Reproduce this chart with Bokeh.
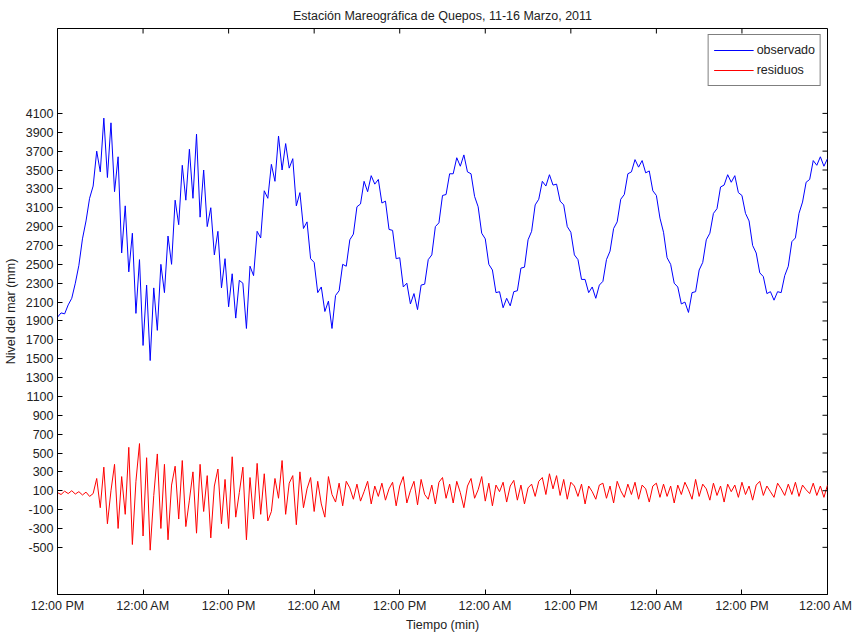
from bokeh.plotting import figure
from bokeh.models import Range1d, FixedTicker, Legend, LegendItem
from bokeh.embed import file_html
from bokeh.resources import INLINE

# ---- data (minutes from 11 March 12:00 PM, 30-min sampling) ----
step_min = 30
observado = [
    1940, 1985, 1975, 2070, 2140, 2300, 2490, 2770, 2960, 3200,
    3330, 3700, 3480, 4050, 3420, 4000, 3270, 3640, 2620, 3120,
    2420, 2830, 1980, 2550, 1640, 2280, 1480, 2250, 1800, 2500,
    2200, 2800, 2500, 3180, 2920, 3550, 3180, 3720, 3200, 3880,
    3000, 3500, 2900, 3100, 2600, 2850, 2250, 2560, 2050, 2400,
    1930, 2330, 2300, 1820, 2480, 2380, 2850, 2780, 3280, 3200,
    3560, 3380, 3860, 3500, 3780, 3520, 3620, 3120, 3260, 2880,
    2950, 2560, 2520, 2200, 2260, 2000, 2110, 1820, 2170, 2220,
    2500, 2480, 2760, 2820, 3110, 3140, 3380, 3270, 3440, 3350,
    3400, 3150, 3170, 2870, 2860, 2560, 2570, 2260, 2300, 2080,
    2190, 2020, 2280, 2290, 2550, 2600, 2900, 2940, 3230, 3240,
    3460, 3460, 3630, 3540, 3660, 3480, 3460, 3220, 3110, 2830,
    2770, 2500, 2440, 2200, 2210, 2040, 2140, 2060, 2210, 2220,
    2460, 2470, 2760, 2850, 3130, 3190, 3380, 3330, 3450, 3340,
    3350, 3170, 3130, 2900, 2840, 2600, 2550, 2340, 2340, 2200,
    2260, 2140, 2280, 2320, 2550, 2640, 2880, 2950, 3190, 3240,
    3460, 3480, 3610, 3530, 3600, 3470, 3490, 3280, 3230, 2990,
    2840, 2570, 2500, 2300, 2260, 2080, 2100, 1990, 2200, 2210,
    2440, 2520, 2760, 2830, 3040, 3090, 3320, 3340, 3450, 3370,
    3440, 3260, 3230, 3040, 2960, 2700, 2620, 2410, 2370, 2190,
    2210, 2120, 2210, 2200, 2380, 2480, 2740, 2780, 3040, 3160,
    3370, 3400, 3600, 3550, 3640, 3540, 3620,
]
residuos = [
    80, 60, 95, 70, 100, 65, 90, 55, 85, 40,
    70, 230, -80, 350, -250, 100, 380, -300, 250, -150,
    560, -470, 200, 600, -380, 450, -530, 50, 490, -300,
    380, -420, 160, 360, -200, 420, -280, 0, 300, -350,
    380, -120, 260, -400, 150, 330, -250, 220, -300, 460,
    -180, 80, 350, -420, 240, -200, 390, -150, 280, -220,
    -120, 230, 20, 420, -150, 180, 260, -260, 300, -80,
    120, 240, -120, 200, -40, -180, 250, 60, -20, 180,
    -60, 200, 130, 10, 170, -10, 90, 200, -40, 150,
    40, 180, 0, 120, 190, -60, 150, 250, -30, 100,
    200, -50, 220, 60, 10, 160, -40, 190, 240, 20,
    170, -30, 200, 80, -80, 150, 230, 20, 110, 250,
    -10, 180, -60, 160, 90, 190, -20, 150, 210, 0,
    160, -40, 130, 170, 40, 200, 240, 60, 280, 120,
    260, 50, 220, 10, 190, 150, 40, 170, -40, 150,
    90, 10, 160, 180, 20, 150, -30, 200, 100, 30,
    170, 60, 190, 10, 160, 120, -20, 150, 180, 30,
    170, 40, 150, -30, 160, 60, 190, 110, 10, 220,
    40, 170, 120, 0, 180, 50, 150, -20, 170, 90,
    160, 30, 190, 60, 150, 0, 160, 200, 50, 150,
    90, 30, 180, 120, 50, 170, 60, 190, 40, 160,
    110, 70, 180, 50, 150, 30, 160,
]
x_ticks = [0, 720, 1440, 2160, 2880, 3600, 4320, 5040, 5760, 6480]
x_tick_labels = ["12:00 PM", "12:00 AM", "12:00 PM", "12:00 AM", "12:00 PM",
                 "12:00 AM", "12:00 PM", "12:00 AM", "12:00 PM", "12:00 AM"]
y_ticks = [-500, -300, -100, 100, 300, 500, 700, 900, 1100, 1300, 1500, 1700,
           1900, 2100, 2300, 2500, 2700, 2900, 3100, 3300, 3500, 3700, 3900, 4100]
y_tick_labels = [str(v) for v in y_ticks]

X0, X1 = 0, 6480
Y0, Y1 = -1000, 5000
FRAME_W, FRAME_H = 770, 566
TICK_PX = 5

t_obs = [i * step_min for i in range(len(observado))]
t_res = [i * step_min for i in range(len(residuos))]

FONT = "Liberation Sans"
FS = "12.5px"
TXT = "#222222"

p = figure(frame_width=FRAME_W, frame_height=FRAME_H,
           output_backend="svg", toolbar_location=None,
           x_range=Range1d(X0, X1), y_range=Range1d(Y0, Y1),
           min_border_left=50, min_border_right=25, min_border_bottom=0,
           min_border_top=0)
p.title.text = "Estación Mareográfica de Quepos, 11-16 Marzo, 2011"
p.title.align = "center"
p.title.text_font = FONT
p.title.text_font_size = FS
p.title.text_font_style = "normal"
p.title.text_color = TXT
p.title.standoff = 12
p.title.offset = 0

p.xgrid.visible = False
p.ygrid.visible = False
p.outline_line_color = "black"
p.outline_line_width = 1

r_obs = p.line(t_obs, observado, line_color="#0000FF", line_width=1)
r_res = p.line(t_res, residuos, line_color="#FF0000", line_width=1)

# mirror tick marks on the top and right edges (MATLAB box style)
dx = (X1 - X0) / FRAME_W * TICK_PX
dy = (Y1 - Y0) / FRAME_H * TICK_PX
p.segment(x0=[X1] * len(y_ticks), y0=y_ticks, x1=[X1 - dx] * len(y_ticks), y1=y_ticks,
          line_color="black", line_width=1)
p.segment(x0=x_ticks, y0=[Y1] * len(x_ticks), x1=x_ticks, y1=[Y1 - dy] * len(x_ticks),
          line_color="black", line_width=1)

def style_axis(ax, ticks, overrides):
    ax.ticker = FixedTicker(ticks=ticks)
    ax.major_label_overrides = overrides
    ax.minor_tick_line_color = None
    ax.major_tick_in = TICK_PX
    ax.major_tick_out = 0
    ax.axis_line_color = "black"
    ax.major_tick_line_color = "black"
    ax.major_label_text_font = FONT
    ax.major_label_text_color = TXT
    ax.major_label_text_font_size = FS
    ax.major_label_standoff = 4
    ax.axis_label_text_font = FONT
    ax.axis_label_text_font_style = "normal"
    ax.axis_label_text_color = TXT
    ax.axis_label_text_font_size = FS

xo = {v: s for v, s in zip(x_ticks, x_tick_labels)}
yo = {v: s for v, s in zip(y_ticks, y_tick_labels)}

style_axis(p.xaxis[0], x_ticks, xo)
p.xaxis[0].axis_label = "Tiempo (min)"
p.xaxis[0].axis_label_standoff = 2
style_axis(p.yaxis[0], y_ticks, yo)
p.yaxis[0].axis_label = "Nivel del mar (mm)"
p.yaxis[0].axis_label_standoff = 5

legend = Legend(items=[LegendItem(label="observado", renderers=[r_obs]),
                       LegendItem(label="residuos", renderers=[r_res])],
                location="top_right")
legend.label_text_font = FONT
legend.label_text_font_size = FS
legend.label_text_color = TXT
legend.border_line_color = "black"
legend.border_line_width = 1
legend.glyph_width = 40
legend.glyph_height = 20
legend.label_height = 20
legend.label_standoff = 3
legend.spacing = 0
legend.padding = 5
legend.margin = 6
legend.background_fill_alpha = 1
p.add_layout(legend)

open("out.html", "w").write(file_html(p, INLINE))
